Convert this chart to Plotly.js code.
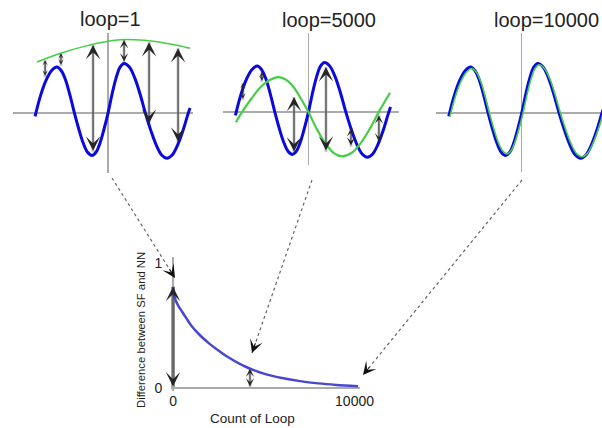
<!DOCTYPE html>
<html><head><meta charset="utf-8">
<script src="https://cdn.plot.ly/plotly-3.0.1.min.js"></script>
<style>html,body{margin:0;padding:0;background:#fff;overflow:hidden}#chart{width:602px;height:428px}</style>
</head><body><div id="chart"></div>
<script>
// ---------------- data ----------------
const panelTitles = ['loop=1', 'loop=5000', 'loop=10000'];

// target sine wave (same in all three panels), x in quarter-period units
const waveX = [-4.0, -3.7, -3.4, -3.1, -2.8, -2.56, -2.32, -2.08, -1.84, -1.6, -1.36, -1.12, -0.88, -0.66, -0.44, -0.22, 0,
  0.22, 0.44, 0.66, 0.88, 1.17, 1.47, 1.76, 2.05, 2.35, 2.64, 2.94, 3.23, 3.52, 3.82, 4.11, 4.4, 4.5];
const waveY = [-0.07, 0.38, 0.71, 0.92, 1.0, 0.92, 0.71, 0.38, 0, -0.35, -0.65, -0.85, -0.92, -0.85, -0.65, -0.35, 0,
  0.41, 0.76, 1.0, 1.08, 1.0, 0.76, 0.41, 0, -0.38, -0.69, -0.91, -0.98, -0.91, -0.69, -0.38, 0, 0.11];

// network output after 1 loop
const fitX1 = [-3.9, -2.6, -1.3, 0, 0.9, 2.0, 3.0, 3.84, 4.5];
const fitY1 = [1.11, 1.30, 1.45, 1.56, 1.60, 1.58, 1.53, 1.47, 1.41];
// after 5000 loops
const fitX2 = [-3.97, -3.64, -3.13, -2.63, -2.12, -1.62, -1.22, -0.81, -0.41, 0, 0.46, 0.93, 1.39, 1.85, 2.35, 2.85, 3.35, 3.85, 4.47];
const fitY2 = [-0.22, 0, 0.29, 0.54, 0.70, 0.76, 0.70, 0.54, 0.29, 0, -0.37, -0.68, -0.89, -0.96, -0.89, -0.68, -0.37, 0, 0.42];
// after 10000 loops
const fitX3 = [-3.93, -3.63, -3.33, -3.03, -2.73, -2.49, -2.25, -2.01, -1.77, -1.53, -1.29, -1.05, -0.81, -0.59, -0.37, -0.15, 0.07,
  0.29, 0.51, 0.73, 0.95, 1.24, 1.54, 1.83, 2.12, 2.42, 2.71, 3.01, 3.30, 3.59, 3.89, 4.18, 4.47];
const fitY3 = [-0.07, 0.37, 0.69, 0.89, 0.97, 0.89, 0.69, 0.37, 0, -0.34, -0.63, -0.82, -0.89, -0.82, -0.63, -0.34, 0,
  0.40, 0.74, 0.97, 1.05, 0.97, 0.74, 0.40, 0, -0.37, -0.67, -0.88, -0.95, -0.88, -0.67, -0.37, 0];

// difference arrows (x, top end, bottom end)
const gapX1 = [-3.45, -2.58, -0.82, 0.88, 2.25, 3.84];
const gapTop1 = [1.15, 1.30, 1.48, 1.59, 1.54, 1.41];
const gapBottom1 = [0.78, 1.02, -0.85, 1.09, -0.26, -0.65];
const gapX2 = [-3.59, -2.55, -0.79, 0.96, 2.33, 3.86];
const gapTop2 = [0.63, 0.87, 0.33, 0.98, -0.35, -0.07];
const gapBottom2 = [0.26, 0.65, -0.89, -0.87, -0.76, -0.67];

// learning curve
const loopCount = [0, 50, 150, 300, 500, 750, 1000, 1500, 2000, 2500, 3000, 4000, 5000, 6000, 7000, 8000, 9000, 10190];
const diffValue = [0.81, 0.75, 0.70, 0.655, 0.61, 0.555, 0.50, 0.42, 0.355, 0.30, 0.25, 0.17, 0.115, 0.08, 0.055, 0.037, 0.025, 0.015];
const markedLoops = [0, 4240];
const markedDiff = [0.81, 0.155];
const xTickVals = [0, 10000];
const xTickText = ['0', '10000'];
const yTickVals = [0, 1];
const yTickText = ['0', '1'];
const xTitle = 'Count of Loop';
const yTitle = 'Difference between SF and NN';

// ---------------- drawing ----------------
const W = 602, H = 428;
const FONT = 'Liberation Sans, Arial, Helvetica, sans-serif';
const BLUE = 'rgb(10,10,220)';
const GREEN = 'rgb(70,205,70)';
const px = v => v / W;
const py = v => 1 - v / H;

const traces = [];
const fits = [[fitX1, fitY1, 1.5], [fitX2, fitY2, 2.2], [fitX3, fitY3, 1.6]];
for (let p = 0; p < 3; p++) {
  const ax = p === 0 ? '' : String(p + 1);
  traces.push({x: waveX, y: waveY, xaxis: 'x' + ax, yaxis: 'y' + ax, mode: 'lines',
    line: {color: BLUE, width: 3, shape: 'spline', smoothing: 1}, hoverinfo: 'skip'});
  traces.push({x: fits[p][0], y: fits[p][1], xaxis: 'x' + ax, yaxis: 'y' + ax, mode: 'lines',
    line: {color: GREEN, width: fits[p][2], shape: 'spline', smoothing: 1}, hoverinfo: 'skip'});
}
traces.push({x: loopCount, y: diffValue, xaxis: 'x4', yaxis: 'y4', mode: 'lines',
  line: {color: 'rgb(72,72,205)', width: 2.5, shape: 'spline', smoothing: 0.7}, hoverinfo: 'skip'});

const smallAxis = {showgrid: false, showticklabels: false, ticks: '', zeroline: true,
  zerolinecolor: '#ababab', zerolinewidth: 1.5, showline: false, fixedrange: true};

const layout = {
  width: W, height: H, margin: {l: 0, r: 0, t: 0, b: 0},
  paper_bgcolor: '#fff', plot_bgcolor: 'rgba(0,0,0,0)', showlegend: false,
  font: {family: FONT, color: '#222'},
  xaxis: Object.assign({}, smallAxis, {domain: [px(13), px(193)], range: [-5.21, 4.66], anchor: 'y'}),
  yaxis: Object.assign({}, smallAxis, {domain: [py(173), py(33)], range: [-1.30, 1.74], anchor: 'x'}),
  xaxis2: Object.assign({}, smallAxis, {domain: [px(223), px(399)], range: [-4.68, 4.96], anchor: 'y2'}),
  yaxis2: Object.assign({}, smallAxis, {domain: [py(165), py(33)], range: [-1.15, 1.72], anchor: 'x2'}),
  xaxis3: Object.assign({}, smallAxis, {domain: [px(436), 1], range: [-4.70, 4.40], anchor: 'y3'}),
  yaxis3: Object.assign({}, smallAxis, {domain: [py(172), py(33)], range: [-1.28, 1.74], anchor: 'x3'}),
  xaxis4: {domain: [px(171.2), px(360)], range: [-100, 10300], anchor: 'y4', showgrid: false,
    zeroline: true, zerolinecolor: '#ababab', zerolinewidth: 1.5, showline: false,
    tickvals: xTickVals, ticktext: xTickText, ticks: '', automargin: false,
    tickfont: {size: 14, color: '#222'}, fixedrange: true},
  yaxis4: {domain: [py(390.5), py(257)], range: [-0.02, 1.048], anchor: 'x4', showgrid: false,
    zeroline: true, zerolinecolor: '#ababab', zerolinewidth: 1.5, showline: false,
    tickvals: yTickVals, ticktext: yTickText, ticks: '', ticklabelstandoff: 8, automargin: false,
    tickfont: {size: 14, color: '#222'}, fixedrange: true},
  shapes: [], annotations: []
};

// titles
const titlePos = [[110, 19], [329, 20], [546, 20]];
panelTitles.forEach((t, i) => layout.annotations.push({text: t, xref: 'paper', yref: 'paper',
  x: px(titlePos[i][0]), y: py(titlePos[i][1]), xanchor: 'center', yanchor: 'middle', showarrow: false,
  font: {size: 20, color: '#222', family: FONT}}));
layout.annotations.push({text: xTitle, xref: 'paper', yref: 'paper', x: px(252), y: py(418),
  xanchor: 'center', yanchor: 'middle', showarrow: false, font: {size: 13.5, color: '#222', family: FONT}});
layout.annotations.push({text: yTitle, xref: 'paper', yref: 'paper', x: px(141), y: py(330),
  xanchor: 'center', yanchor: 'middle', textangle: -90, showarrow: false, font: {size: 11.3, color: '#222', family: FONT}});

// difference arrows
function gapArrows(xs, tops, bots, xr, yr, unitPx) {
  for (let i = 0; i < xs.length; i++) {
    const len = Math.abs(tops[i] - bots[i]) * unitPx;
    const s = len > 40 ? 2.4 : (len > 18 ? 1.4 : 0.9);
    layout.shapes.push({type: 'line', xref: xr, yref: yr, x0: xs[i], x1: xs[i], y0: bots[i], y1: tops[i],
      line: {color: 'rgba(165,165,165,0.6)', width: 3}, layer: 'below'});
    layout.annotations.push({text: '', xref: xr, yref: yr, axref: xr, ayref: yr,
      x: xs[i], y: tops[i], ax: xs[i], ay: bots[i], showarrow: true, arrowside: 'end+start',
      arrowhead: 3, startarrowhead: 3, arrowsize: s, startarrowsize: s, arrowwidth: 1,
      arrowcolor: '#262626', standoff: 0, startstandoff: 0});
  }
}
gapArrows(gapX1, gapTop1, gapBottom1, 'x', 'y', 46);
gapArrows(gapX2, gapTop2, gapBottom2, 'x2', 'y2', 46);
gapArrows(markedLoops, markedDiff, markedLoops.map(() => 0), 'x4', 'y4', 125);
// thicker shaft for the first marked loop
layout.shapes.push({type: 'line', xref: 'x4', yref: 'y4', x0: markedLoops[0], x1: markedLoops[0], y0: 0, y1: markedDiff[0],
  line: {color: 'rgba(120,120,120,0.8)', width: 4}, layer: 'below'});

// dotted connectors from each panel to the curve
const connectors = [[112, 178, 175, 278], [312, 180, 252, 353], [522, 180, 363, 375]];
connectors.forEach(c => {
  layout.shapes.push({type: 'line', xref: 'paper', yref: 'paper', x0: px(c[0]), y0: py(c[1]), x1: px(c[2]), y1: py(c[3]),
    line: {color: '#666', width: 1.2, dash: 'dot'}});
  const dx = c[2] - c[0], dy = c[3] - c[1], L = Math.hypot(dx, dy);
  layout.annotations.push({text: '', xref: 'paper', yref: 'paper', x: px(c[2]), y: py(c[3]),
    ax: -dx / L * 12, ay: -dy / L * 12, showarrow: true, arrowhead: 3, arrowsize: 2.2, arrowwidth: 1,
    arrowcolor: '#111', standoff: 0});
});

Plotly.newPlot('chart', traces, layout, {staticPlot: true, displayModeBar: false});
</script></body></html>
